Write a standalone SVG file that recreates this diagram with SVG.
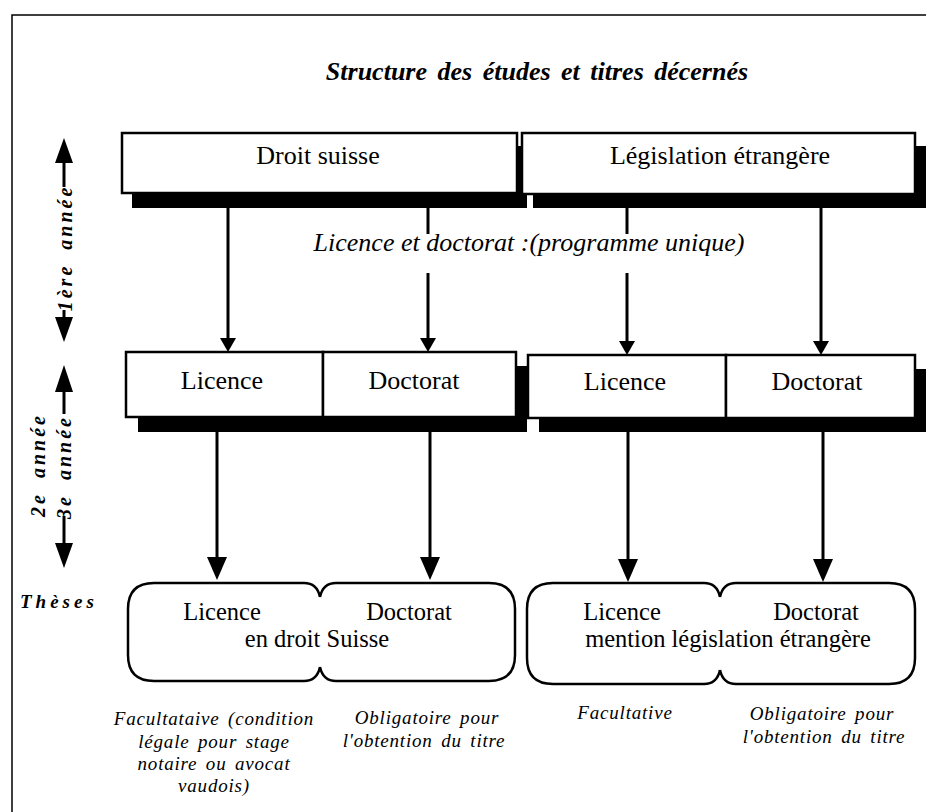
<svg xmlns="http://www.w3.org/2000/svg" width="926" height="812" viewBox="0 0 926 812">
<style>
.box{fill:#fff;stroke:#000;stroke-width:2.5}
.shadow{fill:#000}
.rbox{fill:#fff;stroke:#000;stroke-width:2.5}
.t{font-family:"Liberation Serif","Times New Roman",serif;font-size:26px;text-anchor:middle;fill:#000}
.tb{font-size:24.5px}
.it{font-style:italic}
.bi{font-weight:bold;font-style:italic}
.cap{font-family:"Liberation Serif","Times New Roman",serif;font-size:19px;font-style:italic;text-anchor:middle;letter-spacing:0.8px;word-spacing:3px;fill:#000}
.ax{font-family:"Liberation Serif","Times New Roman",serif;font-size:20px;font-weight:bold;font-style:italic;text-anchor:middle;letter-spacing:3px;word-spacing:6px;fill:#000}
.conn line{stroke:#000;stroke-width:3}
.axis line{stroke:#000;stroke-width:3}
.axis polygon{fill:#000}
</style>
<defs>
<marker id="ah-s" markerUnits="userSpaceOnUse" markerWidth="14" markerHeight="16" viewBox="0 0 14 16" refX="6" refY="8" orient="auto"><path d="M0,0 L14,8 L0,16 Z" fill="#000"/></marker>
<marker id="ah-l" markerUnits="userSpaceOnUse" markerWidth="23" markerHeight="20" viewBox="0 0 23 20" refX="11" refY="10" orient="auto"><path d="M0,0 L23,10 L0,20 Z" fill="#000"/></marker>
</defs>
<rect x="0" y="0" width="926" height="812" fill="#fff"/>
<rect id="frame" x="12" y="15" width="940" height="830" fill="none" stroke="#000" stroke-width="1.5"/>

<text id="title" class="t bi" x="537" y="80" style="font-size:26px;word-spacing:4px">Structure des études et titres décernés</text>

<g id="axis" class="axis">
<polygon points="64,138 55,163 73,163"/>
<line x1="64" y1="162" x2="64" y2="187"/>
<text class="ax" transform="translate(72,248) rotate(-90)">1ère année</text>
<line x1="64" y1="310" x2="64" y2="318"/>
<polygon points="55,317 73,317 64,342"/>
<polygon points="64,365 55,392 73,392"/>
<line x1="64" y1="391" x2="64" y2="414"/>
<text class="ax" transform="translate(45,465) rotate(-90)">2e année</text>
<text class="ax" transform="translate(71,467) rotate(-90)">3e année</text>
<line x1="64" y1="516" x2="64" y2="544"/>
<polygon points="55,543 73,543 64,568"/>
<text class="ax" x="20" y="608" style="text-anchor:start;font-size:19px;letter-spacing:4px">Thèses</text>
</g>

<g id="droit-suisse">
<rect class="shadow" x="132" y="146" width="395" height="62"/>
<rect class="box" x="122" y="133" width="395" height="60"/>
<text class="t" x="318" y="164">Droit suisse</text>
</g>
<g id="legislation-etrangere">
<rect class="shadow" x="533" y="146" width="400" height="62"/>
<rect class="box" x="522" y="133" width="393" height="61"/>
<text class="t" x="720" y="164">Législation étrangère</text>
</g>

<g id="mid-droit-suisse">
<rect class="shadow" x="138" y="366" width="389" height="66"/>
<g id="licence-ch">
<rect class="box" x="126" y="352" width="197" height="65"/>
<text class="t" x="222" y="389">Licence</text>
</g>
<g id="doctorat-ch">
<rect class="box" x="323" y="352" width="193" height="65"/>
<text class="t" x="414" y="389">Doctorat</text>
</g>
</g>
<g id="mid-legislation">
<rect class="shadow" x="539" y="369" width="400" height="63"/>
<g id="licence-le">
<rect class="box" x="528" y="355" width="198" height="63"/>
<text class="t" x="625" y="390">Licence</text>
</g>
<g id="doctorat-le">
<rect class="box" x="726" y="355" width="189" height="63"/>
<text class="t" x="817" y="390">Doctorat</text>
</g>
</g>

<g id="theses-ch">
<g id="these-licence-ch">
<path class="rbox" d="M320,597 Q317,583 304,583 H154 Q128,583 128,609 V655 Q128,681 154,681 H304 Q317,681 320,667"/>
<text class="t tb" x="222" y="620">Licence</text>
</g>
<g id="these-doctorat-ch">
<path class="rbox" d="M320,597 Q323,583 336,583 H489 Q515,583 515,609 V655 Q515,681 489,681 H336 Q323,681 320,667"/>
<text class="t tb" x="409" y="620">Doctorat</text>
</g>
<text class="t tb" x="317" y="647">en droit Suisse</text>
</g>
<g id="theses-le">
<g id="these-licence-le">
<path class="rbox" d="M720,597 Q717,583 704,583 H553 Q527,583 527,609 V658 Q527,684 553,684 H704 Q717,684 720,670"/>
<text class="t tb" x="622" y="620">Licence</text>
</g>
<g id="these-doctorat-le">
<path class="rbox" d="M720,597 Q723,583 736,583 H889 Q915,583 915,609 V658 Q915,684 889,684 H736 Q723,684 720,670"/>
<text class="t tb" x="816" y="620">Doctorat</text>
</g>
<text class="t tb" x="728" y="647">mention législation étrangère</text>
</g>

<g id="connectors" class="conn">
<line x1="228" y1="207" x2="228" y2="344" marker-end="url(#ah-s)"/>
<line x1="428" y1="207" x2="428" y2="344" marker-end="url(#ah-s)"/>
<line x1="627" y1="208" x2="627" y2="347" marker-end="url(#ah-s)"/>
<line x1="821" y1="208" x2="821" y2="347" marker-end="url(#ah-s)"/>
<line x1="217" y1="432" x2="217" y2="568" marker-end="url(#ah-l)"/>
<line x1="430" y1="432" x2="430" y2="568" marker-end="url(#ah-l)"/>
<line x1="628" y1="432" x2="628" y2="570" marker-end="url(#ah-l)"/>
<line x1="823" y1="432" x2="823" y2="570" marker-end="url(#ah-l)"/>
</g>

<g id="label-programme">
<rect x="305" y="234" width="447" height="39" fill="#fff"/>
<text class="t it" x="529" y="251">Licence et doctorat :(programme unique)</text>
</g>

<g id="captions">
<text class="cap" x="214" y="725">Facultataive (condition</text>
<text class="cap" x="214" y="748">légale pour stage</text>
<text class="cap" x="214" y="770">notaire ou avocat</text>
<text class="cap" x="214" y="792">vaudois)</text>
<text class="cap" x="427" y="724">Obligatoire pour</text>
<text class="cap" x="424" y="747">l'obtention du titre</text>
<text class="cap" x="625" y="719">Facultative</text>
<text class="cap" x="822" y="720">Obligatoire pour</text>
<text class="cap" x="824" y="743">l'obtention du titre</text>
</g>
</svg>
